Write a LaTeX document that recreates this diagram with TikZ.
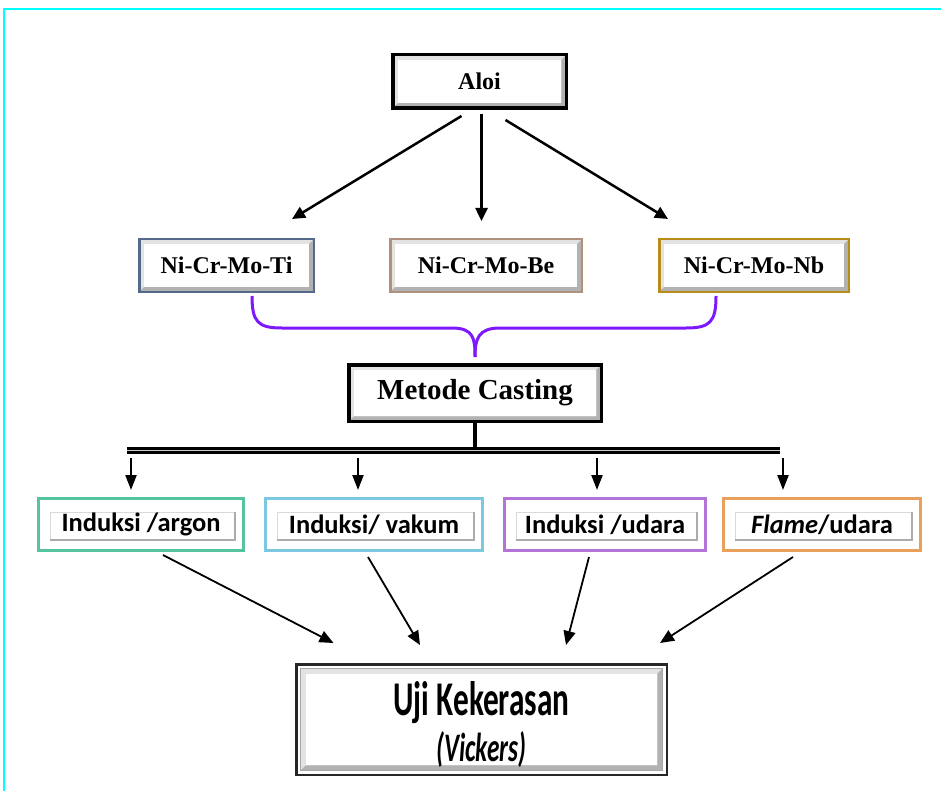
\documentclass[tikz,border=0pt]{standalone}
\usepackage{graphicx}
\usepackage{fontspec}
\setmainfont{Liberation Serif}
\newfontfamily\calibfont{Carlito}
\usetikzlibrary{positioning,arrows.meta,calc}

\definecolor{frameCyan}{RGB}{0,255,255}
\definecolor{tiBlue}{RGB}{85,105,140}
\definecolor{beTan}{RGB}{175,145,125}
\definecolor{nbGold}{RGB}{185,140,25}
\definecolor{argonGreen}{RGB}{85,195,160}
\definecolor{vakumBlue}{RGB}{125,200,225}
\definecolor{udaraPurple}{RGB}{180,115,215}
\definecolor{flameOrange}{RGB}{232,160,90}
\definecolor{braceViolet}{RGB}{125,25,255}

\begin{document}
\begin{tikzpicture}[
  x=1pt, y=-1pt,
  bevel/.style={path picture={
    \path ([shift={(#1,#1)}]path picture bounding box.south west) coordinate (bsw)
          ([shift={(-#1,-#1)}]path picture bounding box.north east) coordinate (bne);
    \fill[gray!22] (bsw) rectangle (bne);
    \fill[gray!60] (bsw) -- (bsw -| bne) -- (bne) -- ([shift={(-5pt,-5pt)}]bne)
      |- ([shift={(5pt,5pt)}]bsw) -- cycle;
    \fill[white] ([shift={(5pt,5pt)}]bsw) rectangle ([shift={(-5pt,-5pt)}]bne);
    \draw[gray!70, line width=0.6pt] (bsw) rectangle (bne);
  }},
  bevel/.default=0pt,
  topbox/.style={draw=black, line width=3.5pt, bevel, font=\fontsize{24}{28}\selectfont\bfseries},
  alloy/.style={draw, line width=2.5pt, bevel, minimum height=52.5pt,
    font=\fontsize{24}{28}\selectfont\bfseries},
  method/.style={draw, line width=3pt, fill=white, minimum height=52pt,
    font=\calibfont\fontsize{26.5}{30}\selectfont\bfseries,
    path picture={
      \draw[gray!30, line width=1pt]
        ([shift={(11.5pt,10.5pt)}]path picture bounding box.south west) rectangle
        ([shift={(-8.5pt,-13.5pt)}]path picture bounding box.north east);
      \draw[gray!65, line width=1.2pt]
        ([shift={(11.5pt,10.5pt)}]path picture bounding box.south west) -|
        ([shift={(-8.5pt,-13.5pt)}]path picture bounding box.north east);
    }},
  arr/.style={-{Triangle[length=13pt,width=12pt]}, line width=2.5pt},
  arrv/.style={-{Triangle[length=15pt,width=11pt]}, line width=2.2pt},
  arrthin/.style={-{Triangle[length=14pt,width=12pt]}, line width=1.8pt},
  bracepath/.style={draw=braceViolet, line width=3pt},
  barline/.style={line width=2.5pt, double=gray!40, double distance=1.5pt}
]
\useasboundingbox (0,0) rectangle (941,791);

% open frame
\draw[frameCyan, line width=2pt] (4,791) -- (4,9) -- (941,9);

% nodes
\node[topbox, minimum width=173.5pt, minimum height=53.5pt] (aloi) at (479.5,81.5) {Aloi};

\node[alloy, draw=tiBlue, minimum width=174.5pt] (ti) at (226.5,265.5) {Ni-Cr-Mo-Ti};
\node[alloy, draw=beTan, minimum width=191.5pt] (be) at (486,265.5) {Ni-Cr-Mo-Be};
\node[alloy, draw=nbGold, minimum width=189.5pt] (nb) at (754,265.5) {Ni-Cr-Mo-Nb};

\node[topbox, minimum width=252.5pt, minimum height=56.5pt,
  font=\fontsize{29}{34}\selectfont\bfseries] (casting) at (475,393) {Metode Casting};

\node[method, draw=argonGreen, minimum width=205pt] (argon) at (141,524.5) {Induksi /argon};
\node[method, draw=vakumBlue, minimum width=217pt] (vakum) at (374,524.5) {Induksi/ vakum};
\node[method, draw=udaraPurple, minimum width=201pt] (udara) at (605,524.5) {Induksi /udara};
\node[method, draw=flameOrange, minimum width=197pt] (flame) at (822,524.5) {{\itshape Flame}/udara};

\node[draw=black!85, line width=2.5pt, fill=white, bevel=4.5pt,
  minimum width=370.5pt, minimum height=110.5pt, align=center,
  font=\calibfont\bfseries\fontsize{36}{46}\selectfont] (uji) at (481.5,719.5)
  {\rule{0pt}{44pt}\resizebox{176pt}{34pt}{Uji Kekerasan}\\\resizebox{90pt}{30pt}{\itshape (Vickers)}};

% arrows from Aloi
\draw[arr] ([xshift=-18pt,yshift=-6pt]aloi.south) -- ([xshift=65.5pt,yshift=19pt]ti.north);
\draw[arr] ([xshift=2pt,yshift=-4pt]aloi.south) -- ([xshift=-4.5pt,yshift=17pt]be.north);
\draw[arr] ([xshift=26pt,yshift=-10pt]aloi.south) -- ([xshift=-86pt,yshift=19pt]nb.north);

% brace into Metode Casting
\coordinate (tip) at ([yshift=6pt]casting.north);
\draw[bracepath] ([xshift=25.5pt,yshift=-3pt]ti.south) .. controls +(0,26) and +(-24,0) .. (282,328)
  -- (452,328) .. controls +(22,0) and +(0,-18) .. (tip);
\draw[bracepath] ([xshift=-38pt,yshift=-3pt]nb.south) .. controls +(0,26) and +(24,0) .. (686,328)
  -- (500,328) .. controls +(-22,0) and +(0,-18) .. (tip);

% distribution bar
\coordinate (barL) at (127,450.5);
\coordinate (barR) at (780,450.5);
\draw[line width=4pt] (casting.south) -- (casting.south |- barL);
\draw[barline] (barL) -- (barR);
\foreach \n/\d in {argon/-10, vakum/-16, udara/-8, flame/-39}
  \draw[arrv] ([xshift=\d pt]\n.north) ++(0,-39) -- ++(0,32);

% arrows into Uji Kekerasan
\draw[arrthin] ([xshift=22pt,yshift=-3pt]argon.south) -- ([xshift=-148pt,yshift=20pt]uji.north);
\draw[arrthin] ([xshift=-6pt,yshift=-5pt]vakum.south) -- ([xshift=-61.5pt,yshift=18pt]uji.north);
\draw[arrthin] ([xshift=-16pt,yshift=-5pt]udara.south) -- ([xshift=84.5pt,yshift=18pt]uji.north);
\draw[arrthin] ([xshift=-29pt,yshift=-5pt]flame.south) -- ([xshift=178.5pt,yshift=20pt]uji.north);

\end{tikzpicture}
\end{document}
